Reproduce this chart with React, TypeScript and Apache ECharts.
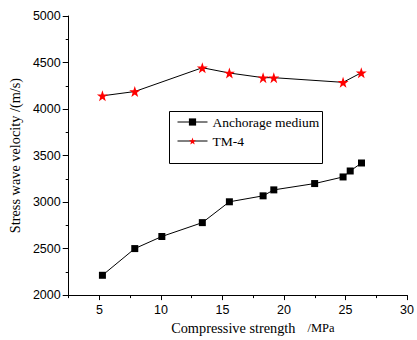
import React, { useEffect, useRef } from "react";
import * as echarts from "echarts";

const anchorX = [5.24, 7.87, 10.07, 13.36, 15.56, 18.3, 19.17, 22.49, 24.8, 25.38, 26.3];
const anchorY = [2213, 2500, 2630, 2779, 3003, 3067, 3131, 3199, 3270, 3334, 3420];
const tmX = [5.24, 7.87, 13.36, 15.56, 18.3, 19.17, 24.8, 26.28];
const tmY = [4142, 4188, 4444, 4387, 4337, 4337, 4287, 4390];
const xMajorTicks = [5, 10, 15, 20, 25, 30];
const xMinorTicks = [2.5, 7.5, 12.5, 17.5, 22.5, 27.5];
const seriesNames = ["Anchorage medium", "TM-4"];

const STAR =
  "path://M50,0 L61.8,35.4 L97.6,35.4 L68.8,57.3 L79.4,92.7 L50,71 L20.6,92.7 L31.2,57.3 L2.4,35.4 L38.2,35.4 Z";

export default function App() {
  const ref = useRef<HTMLDivElement>(null);
  useEffect(() => {
    const chart = echarts.init(ref.current!, null, { renderer: "svg" });
    const serif = "Liberation Serif";
    const sans = "Liberation Sans";
    chart.setOption({
      animation: false,
      backgroundColor: "#ffffff",
      grid: { left: 66, right: 5, top: 16, bottom: 43 },
      legend: {
        orient: "vertical",
        left: 177,
        top: 115,
        itemWidth: 30,
        itemHeight: 9,
        itemGap: 5,
        padding: 0,
        textStyle: { fontFamily: serif, fontSize: 13.5, color: "#000" },
        data: [
          { name: seriesNames[0], lineStyle: { color: "#000", width: 1 }, itemStyle: { color: "#000" } },
          { name: seriesNames[1], lineStyle: { color: "#000", width: 1 }, itemStyle: { color: "#ff0000" } },
        ],
      },
      graphic: [
        {
          type: "rect",
          shape: { x: 169.5, y: 111.5, width: 153, height: 52 },
          style: { fill: "#fff", stroke: "#000", lineWidth: 1 },
          z: 0,
        },
      ],
      xAxis: [
        {
          type: "value",
          min: 2.5,
          max: 30,
          name: "{a|Compressive strength}{b|/MPa}",
          nameLocation: "middle",
          nameGap: 24,
          nameTextStyle: {
            fontFamily: serif,
            fontSize: 14.3,
            color: "#000",
            padding: [0, 0, 0, 30],
            rich: {
              a: { fontFamily: serif, fontSize: 14.3, color: "#000" },
              b: { fontFamily: serif, fontSize: 12.5, color: "#000", padding: [0, 0, 0, 12] },
            },
          },
          axisLine: { show: true, onZero: false, lineStyle: { color: "#000", width: 1 } },
          axisTick: { show: true, length: 5, customValues: xMajorTicks, lineStyle: { color: "#000" } },
          axisLabel: { customValues: xMajorTicks, fontFamily: sans, fontSize: 12.5, color: "#000", margin: 8 },
          splitLine: { show: false },
        },
        {
          type: "value",
          min: 2.5,
          max: 30,
          position: "bottom",
          axisLine: { show: false },
          axisTick: { show: true, length: 3, customValues: xMinorTicks, lineStyle: { color: "#000" } },
          axisLabel: { show: false },
          splitLine: { show: false },
        },
      ],
      yAxis: {
        type: "value",
        min: 2000,
        max: 5000,
        interval: 500,
        name: "Stress wave velocity /(m/s)",
        nameLocation: "middle",
        nameGap: 42,
        nameTextStyle: { fontFamily: serif, fontSize: 14.3, color: "#000" },
        axisLine: { show: true, lineStyle: { color: "#000", width: 1 } },
        axisTick: { show: true, length: 6, lineStyle: { color: "#000" } },
        minorTick: { show: true, splitNumber: 2, length: 3, lineStyle: { color: "#000" } },
        axisLabel: { fontFamily: sans, fontSize: 12.5, color: "#000", margin: 8, formatter: (v: number) => String(v) },
        splitLine: { show: false },
      },
      series: [
        {
          name: seriesNames[0],
          type: "line",
          xAxisIndex: 0,
          data: anchorX.map((x, i) => [x, anchorY[i]]),
          symbol: "rect",
          symbolSize: 7,
          lineStyle: { color: "#000", width: 1 },
          itemStyle: { color: "#000" },
        },
        {
          name: seriesNames[1],
          type: "line",
          xAxisIndex: 0,
          data: tmX.map((x, i) => [x, tmY[i]]),
          symbol: STAR,
          symbolSize: 11,
          lineStyle: { color: "#000", width: 1 },
          itemStyle: { color: "#ff0000" },
        },
      ],
    });
    return () => chart.dispose();
  }, []);
  return <div ref={ref} style={{ width: 417, height: 340, position: "absolute", left: 0, top: 0 }} />;
}
